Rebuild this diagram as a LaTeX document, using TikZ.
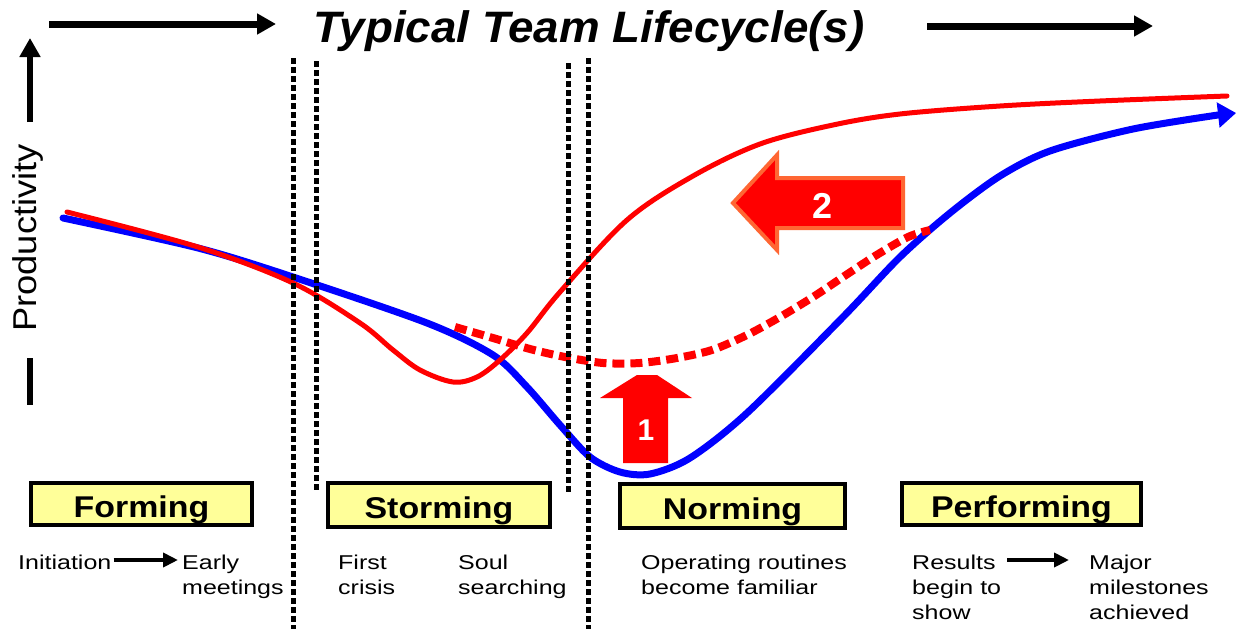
\documentclass[tikz,border=0pt]{standalone}
\usepackage{fontspec}
\setmainfont{Liberation Sans}
\newfontfamily\titlefont[FakeStretch=1.04]{Liberation Sans}
\newfontfamily\stagefont[FakeStretch=1.13]{Liberation Sans}
\newfontfamily\notefont[FakeStretch=1.25]{Liberation Sans}
\newfontfamily\axisfont[FakeStretch=1.1]{Liberation Sans}
\usetikzlibrary{arrows.meta}
\definecolor{stageyellow}{HTML}{FFFF99}
\definecolor{curvered}{HTML}{FF0000}
\definecolor{curveblue}{HTML}{0000FF}
\definecolor{edgeorange}{HTML}{FF6633}

\tikzset{
  bigarrow/.style={line width=7pt, -{Triangle[length=19pt,width=20pt]}},
  phaseline/.style={line width=5pt, dash pattern=on 6pt off 3pt},
  stagebox/.style={draw=black, line width=4pt, fill=stageyellow, inner sep=0pt,
    text height=32pt, text depth=6pt,
    font=\stagefont\bfseries\fontsize{30}{34}\selectfont},
  note/.style={anchor=north west, inner sep=0pt, align=left,
    font=\notefont\fontsize{20}{25}\selectfont},
  notearrow/.style={line width=4.5pt, -{Triangle[length=15pt,width=14pt]}},
  bluecurve/.style={curveblue, line width=7pt, line cap=round},
  redcurve/.style={curvered, line width=5pt, line cap=round},
  reddots/.style={curvered, line width=8pt, dash pattern=on 12pt off 6pt},
  badge/.style={text=white, font=\bfseries\fontsize{30}{30}\selectfont, inner sep=0pt},
}

\begin{document}
\begin{tikzpicture}[x=1pt,y=-1pt]
\useasboundingbox (0,0) rectangle (1236,629);

% title and time axis
\node[anchor=base, inner sep=0pt, font=\titlefont\bfseries\itshape\fontsize{44}{48}\selectfont]
  (title) at (589,42) {Typical Team Lifecycle(s)};
\coordinate (tl0) at (49,24);   \coordinate (tl1) at (276,24);
\coordinate (tr0) at (927,26);  \coordinate (tr1) at (1153,26);
\draw[bigarrow] (tl0) -- (tl1);
\draw[bigarrow] (tr0) -- (tr1);

% productivity axis
\coordinate (ax0) at (30,122);  \coordinate (ax1) at (30,38);
\draw[line width=6pt, -{Triangle[length=19pt,width=20pt]}] (ax0) -- (ax1);
\node[rotate=90, inner sep=0pt, font=\axisfont\fontsize{33}{36}\selectfont]
  (prod) at (28,238) {Productivity};
\coordinate (bar0) at (30,358); \coordinate (bar1) at (30,405);
\draw[line width=6pt] (bar0) -- (bar1);

% improvement arrows
\fill[curvered] (623,463) -- (623,398) -- (600,398) -- (637,375) -- (657,375)
  -- (692,398) -- (668,398) -- (668,463) -- cycle;
\node[badge] (one) at (646,430) {1};
\draw[edgeorange, line width=4pt, fill=curvered, line join=miter]
  (903,178) -- (777,178) -- (777,155) -- (733,203) -- (777,250) -- (777,228)
  -- (903,228) -- cycle;
\node[badge, font=\bfseries\fontsize{36}{36}\selectfont] (two) at (822,206) {2};

% lifecycle curves
\draw[bluecurve] plot[smooth, tension=0.5] coordinates {
  (63,218) (198,248) (293,277) (427,323) (493,355) (527,387) (560,425)
  (590,457) (620,472) (650,474) (690,458) (747,413) (843,317) (900,257)
  (950,213) (1000,176) (1050,151) (1133,129) (1218,115)};
\draw[curveblue, line width=3pt, -{Triangle[length=18pt,width=25pt]}]
  (1214,115.5) -- (1236,113);
\draw[redcurve] plot[smooth, tension=0.55] coordinates {
  (67,212) (198,247) (293,283) (360,323) (393,350)
  (420,370) (453,382) (477,377) (500,360) (527,333) (560,292)
  (627,220) (693,176) (760,144) (833,125)
  (900,114) (1000,106) (1100,101) (1227,96)};
\draw[reddots] plot[smooth, tension=0.5] coordinates {
  (455,327) (493,338) (530,349) (565,357) (603,363) (640,363) (677,358)
  (712,350) (747,335) (780,317) (813,297) (843,277) (875,256) (908,237)
  (930,230)};

% stage boundaries
\draw[phaseline] (293,58) -- (293,629);
\draw[phaseline] (316,61) -- (316,492);
\draw[phaseline] (568,63) -- (568,492);
\draw[phaseline] (588,58) -- (588,629);

% stage labels
\node[stagebox, minimum width=221pt, minimum height=42pt] (forming) at (141.5,504) {Forming};
\node[stagebox, minimum width=222pt, minimum height=44pt] (storming) at (439,505) {Storming};
\node[stagebox, minimum width=225pt, minimum height=44pt] (norming) at (732.5,506) {Norming};
\node[stagebox, minimum width=239pt, minimum height=42pt] (performing) at (1021.5,504) {Performing};

% stage notes
\node[note] (init) at (18,555) {Initiation};
\node[note] (early) at (182,555) {Early\\meetings};
\node[note] (first) at (338,555) {First\\crisis};
\node[note] (soul) at (458,555) {Soul\\searching};
\node[note] (oper) at (641,555) {Operating routines\\become familiar};
\node[note] (results) at (912,555) {Results\\begin to\\show};
\node[note] (major) at (1089,555) {Major\\milestones\\achieved};
\draw[notearrow] ([xshift=2pt,yshift=-5pt]init.north east) -- ([xshift=-4pt,yshift=-5pt]init.north east -| early.west);
\draw[notearrow] ([xshift=6pt,yshift=-5pt]results.north east) -- ([xshift=-20pt,yshift=-5pt]results.north east -| major.west);
\end{tikzpicture}
\end{document}
